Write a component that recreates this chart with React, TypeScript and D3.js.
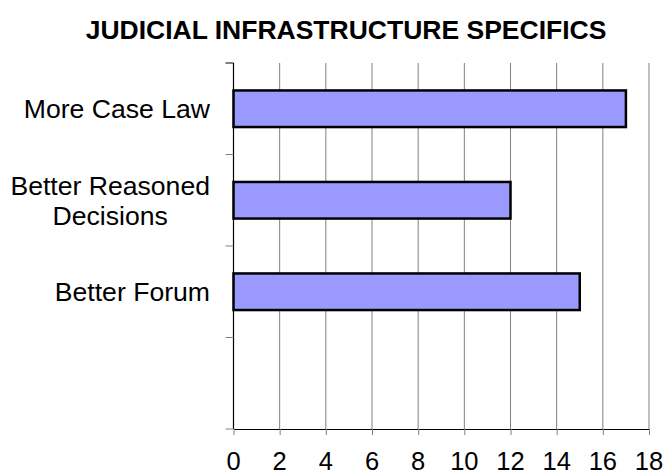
import { useEffect, useRef } from 'react';
import * as d3 from 'd3';

const title = 'JUDICIAL INFRASTRUCTURE SPECIFICS';
const categories = ['More Case Law', 'Better Reasoned\nDecisions', 'Better Forum', ''];
const values: (number | null)[] = [17, 12, 15, null];
const xTicks = [0, 2, 4, 6, 8, 10, 12, 14, 16, 18];

const FONT = '"Liberation Sans", Arial, Helvetica, sans-serif';

export default function App() {
  const svgRef = useRef<SVGSVGElement>(null);

  useEffect(() => {
    const el = svgRef.current;
    if (!el) return;
    const svg = d3.select(el);
    svg.selectAll('*').remove();

    const W = 666, H = 474;
    const left = 233.5, right = 649, top = 63, bottom = 429;

    const x = d3.scaleLinear().domain([0, 18]).range([left, right]);
    const y = d3.scaleBand<string>().domain(categories.map((c, i) => `${i}`)).range([top, bottom]).padding(0);
    const step = y.step();
    const barH = step * 0.4;

    svg.attr('width', W).attr('height', H);

    // title
    svg.append('text')
      .attr('x', 346).attr('y', 39)
      .attr('text-anchor', 'middle')
      .style('font-family', FONT)
      .style('font-size', '26.5px')
      .style('font-weight', 'bold')
      .text(title);

    // vertical grid
    svg.append('g')
      .selectAll('line')
      .data(xTicks.slice(1))
      .join('line')
      .attr('x1', d => x(d)).attr('x2', d => x(d))
      .attr('y1', top).attr('y2', bottom)
      .attr('stroke', '#808080')
      .attr('stroke-width', 1);

    // bars
    svg.append('g')
      .selectAll('rect')
      .data(values.map((v, i) => ({ v, i })).filter(d => d.v != null))
      .join('rect')
      .attr('x', x(0))
      .attr('y', d => (y(`${d.i}`) as number) + step / 2 - barH / 2)
      .attr('width', d => x(d.v as number) - x(0))
      .attr('height', barH)
      .attr('fill', '#9999FF')
      .attr('stroke', '#000')
      .attr('stroke-width', 2.5);

    // x axis
    const xAxis = svg.append('g').attr('transform', `translate(0,${bottom})`)
      .call(d3.axisBottom(x).tickValues(xTicks).tickSize(6).tickSizeOuter(0).tickPadding(0));
    xAxis.select('.domain').attr('stroke', '#000');
    xAxis.selectAll('.tick line').attr('stroke', '#808080');
    xAxis.selectAll('.tick text').remove();
    svg.append('g')
      .selectAll('text')
      .data(xTicks)
      .join('text')
      .attr('x', d => x(d)).attr('y', 470)
      .attr('text-anchor', 'middle')
      .style('font-family', FONT)
      .style('font-size', '25.5px')
      .text(d => d);

    // y axis
    svg.append('line')
      .attr('x1', left).attr('x2', left).attr('y1', top).attr('y2', bottom)
      .attr('stroke', '#000').attr('stroke-width', 1.2);
    svg.append('g')
      .selectAll('line')
      .data(d3.range(categories.length + 1))
      .join('line')
      .attr('x1', left - 8).attr('x2', left)
      .attr('y1', i => top + i * step).attr('y2', i => top + i * step)
      .attr('stroke', (i) => (i === 0 ? '#000' : '#808080'));

    // category labels
    const labelRight = 210;
    categories.forEach((c, i) => {
      if (!c) return;
      const lines = c.split('\n');
      const cy = (y(`${i}`) as number) + step / 2;
      const lh = 30;
      const t = svg.append('text')
        .style('font-family', FONT)
        .style('font-size', '26.6px')
        .attr('text-anchor', 'middle');
      const spans = lines.map((ln, k) => t.append('tspan')
        .attr('y', cy + 9.3 + (k - (lines.length - 1) / 2) * lh)
        .text(ln));
      const maxW = d3.max(spans, s => (s.node() as SVGTSpanElement).getComputedTextLength()) || 0;
      spans.forEach(s => s.attr('x', labelRight - maxW / 2));
    });
  }, []);

  return (
    <div style={{ position: 'absolute', left: 0, top: 0, background: '#fff' }}>
      <svg ref={svgRef} style={{ display: 'block' }} />
    </div>
  );
}
